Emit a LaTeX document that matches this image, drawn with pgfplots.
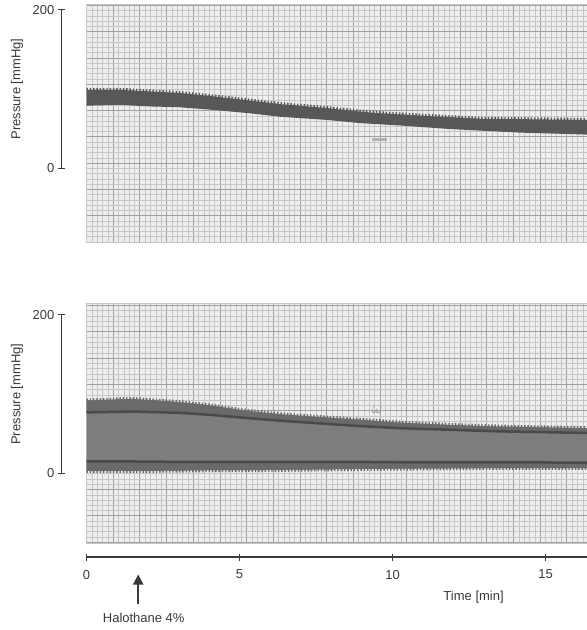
\documentclass[border=0pt]{standalone}
\usepackage{fontspec}
\setmainfont{Liberation Sans}
\usepackage{pgfplots}
\pgfplotsset{compat=1.18}
\usepackage{pgfplotstable}
\usepgfplotslibrary{fillbetween}
\usetikzlibrary{arrows.meta}

\definecolor{txt}{HTML}{3A3A3A}
\definecolor{gridminor}{HTML}{C6C6C6}
\definecolor{gridmajor}{HTML}{A0A0A0}
\definecolor{paper}{HTML}{EEEEEE}
\definecolor{trace}{HTML}{575757}
\definecolor{bandmid}{HTML}{7D7D7D}
\definecolor{bandedge}{HTML}{6A6A6A}
\definecolor{bandline}{HTML}{4A4A4A}

% top trace: upper / lower edge of the pressure band (mmHg)
\pgfplotstableread{
t     up    lo
0     99    80
1.1   99    81
2.07  97    79
3.06  95    78
4.2   90.5  74.5
5.44  85    70
6.32  81    66
7.86  76    62
8.94  71.5  58
9.59  69.5  56.5
10.25 68    55
11.88 64.5  50.5
12.86 62.5  48.5
14.16 62    46
16.36 61    43.5
}\topband

% bottom trace: systolic edge, dark upper line, dark lower line, diastolic edge
\pgfplotstableread{
t     up    ud    ld    lo
0     92    77    15    3
1.5   94    78    15    3
3.0   90    76.5  14.5  3.5
4.0   86    74    14.5  4
5.2   79    70    14.5  4
6.5   74    66    14.5  4.5
7.65  71    63    14.5  5
8.8   68    60    14.5  5.5
10.25 64    57    14    6
11.9  61    55    14    6.5
13.5  59    53    14    7
16.36 57    51    13.5  7
}\botband

\pgfplotsset{
  paper/.style={
    x=30.6pt, y=0.792pt, scale only axis, anchor=south west,
    xmin=0, xmax=16.36,
    axis background/.style={fill=paper},
    axis line style={draw=gridminor},
    grid=both,
    xtick={0,0.872,...,16.4}, minor x tick num=4,
    minor y tick num=4,
    major grid style={gridmajor, line width=0.8pt},
    minor grid style={gridminor, line width=0.5pt},
    major tick length=0pt, minor tick length=0pt,
    xticklabels={}, yticklabels={},
  },
  bar/.style={
    x=30.6pt, y=0.792pt, scale only axis, anchor=south west,
    xmin=-0.82, xmax=0, ymin=0, ymax=200,
    axis x line=none, axis y line=left,
    y axis line style={-, txt, line width=1.3pt},
    every outer y axis line/.append style={-},
    ytick={0,200}, tick align=center, major tick length=7pt,
    tick style={txt, line width=1pt},
    yticklabel style={font=\fontsize{13}{15}\selectfont, text=txt},
    /pgf/number format/assume math mode=true,
    ylabel={Pressure [mmHg]},
    every axis y label/.style={at={(axis cs:-2.27,100)}, rotate=90, anchor=center,
      font=\fontsize{13}{15}\selectfont, text=txt},
    clip=false,
  },
}

\begin{document}
\begin{tikzpicture}

% ---- top panel ----
\begin{axis}[paper, at={(86.5pt,-242pt)}, ymin=-93.1, ymax=207.5,
  ytick={-93.1,-59.9,...,206}]
  \addplot[name path=tu, draw=none] table[x=t, y=up] {\topband};
  \addplot[name path=tl, draw=none] table[x=t, y=lo] {\topband};
  \addplot[fill=trace, draw=none] fill between[of=tu and tl];
  \addplot[trace, line width=4pt, dash pattern=on 1.4pt off 1.9pt] table[x=t, y=up] {\topband};
  \addplot[trace, line width=1.5pt] table[x=t, y=lo] {\topband};
  \addplot[black!30, line width=3pt] coordinates {(9.32,36) (9.81,36)};
\end{axis}
\begin{axis}[bar, at={(61.4pt,-168.3pt)}]
  \addplot[draw=none] coordinates {(-0.82,0) (0,200)};
\end{axis}

% ---- bottom panel ----
\begin{axis}[paper, at={(86.5pt,-543.2pt)}, ymin=-88.2, ymax=214.6,
  ytick={-86.8,-53.6,...,215}]
  \addplot[name path=bu, draw=none] table[x=t, y=up] {\botband};
  \addplot[name path=bud, draw=none] table[x=t, y=ud] {\botband};
  \addplot[name path=bld, draw=none] table[x=t, y=ld] {\botband};
  \addplot[name path=bl, draw=none] table[x=t, y=lo] {\botband};
  \addplot[fill=bandmid, draw=none] fill between[of=bu and bl];
  \addplot[fill=bandedge, draw=none] fill between[of=bu and bud];
  \addplot[fill=bandedge, draw=none] fill between[of=bld and bl];
  \addplot[bandedge, line width=4pt, dash pattern=on 1.4pt off 1.9pt] table[x=t, y=up] {\botband};
  \addplot[bandedge, line width=4pt, dash pattern=on 1.4pt off 1.9pt] table[x=t, y=lo] {\botband};
  \addplot[bandline, line width=2.5pt] table[x=t, y=ud] {\botband};
  \addplot[bandline, line width=2.5pt] table[x=t, y=ld] {\botband};
  \node[text=black!40, scale=1.6] at (axis cs:9.5,80) {$\omega$};
\end{axis}
\begin{axis}[bar, at={(61.4pt,-473.3pt)}]
  \addplot[draw=none] coordinates {(-0.82,0) (0,200)};
\end{axis}

% ---- time axis ----
\begin{axis}[x=30.6pt, y=0.792pt, scale only axis, anchor=south west,
  at={(86.5pt,-557pt)},
  xmin=0, xmax=16.36, ymin=0, ymax=10,
  axis y line=none, axis x line=bottom,
  x axis line style={-, txt, line width=1.3pt},
  every outer x axis line/.append style={-},
  xtick={0,5,10,15}, tick align=center, major tick length=7pt,
  tick style={txt, line width=1pt},
  xticklabel style={font=\fontsize{13}{15}\selectfont, text=txt, yshift=-6pt},
  /pgf/number format/assume math mode=true,
  xlabel={Time [min]},
  every axis x label/.style={at={(axis cs:12.65,0)}, anchor=center, yshift=-40pt,
    font=\fontsize{13}{15}\selectfont, text=txt},
  clip=false]
  \addplot[draw=none] coordinates {(0,0) (16.36,10)};
  \draw[txt, line width=2pt, -{Triangle[width=10pt,length=10pt]}]
    ([yshift=-46.5pt]axis cs:1.69,0) -- ([yshift=-17.5pt]axis cs:1.69,0);
  \node[text=txt, font=\fontsize{13}{15}\selectfont] at ([yshift=-60.5pt]axis cs:1.87,0) {Halothane 4\%};
\end{axis}

\pgfresetboundingbox
\path[use as bounding box] (0,0) rectangle (587pt,-630pt);
\end{tikzpicture}
\end{document}
